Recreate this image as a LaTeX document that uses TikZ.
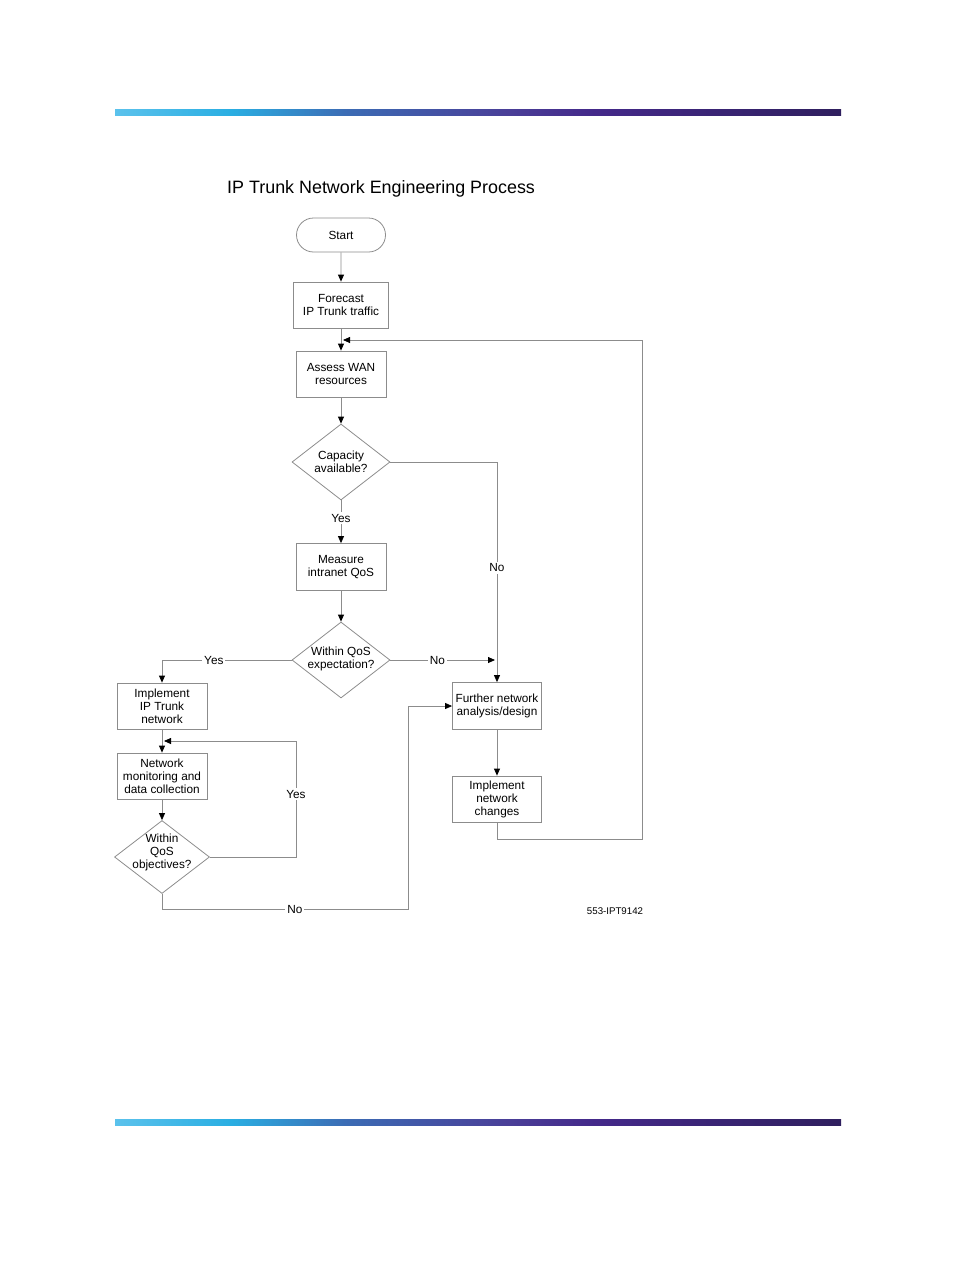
\documentclass[tikz,border=0pt]{standalone}
\usepackage{fontspec}
\setmainfont{Liberation Sans}
\usetikzlibrary{arrows.meta,shapes.geometric,shapes.misc}
\definecolor{bA}{HTML}{5BC2EC}
\definecolor{bB}{HTML}{2AAEE2}
\definecolor{bC}{HTML}{3C6BB4}
\definecolor{bD}{HTML}{4A3F98}
\definecolor{bE}{HTML}{44298A}
\definecolor{bF}{HTML}{2F1F5E}
\definecolor{ln}{HTML}{8C8C8C}
\pgfdeclarehorizontalshading{barshade}{100bp}{color(0bp)=(bA); color(25bp)=(bA); color(33bp)=(bB); color(41bp)=(bC); color(52bp)=(bD); color(58bp)=(bE); color(75bp)=(bF); color(100bp)=(bF)}
\tikzset{
  nfont/.style={font=\fontsize{11.8}{13}\selectfont},
  box/.style={draw=ln, line width=0.8pt, rectangle, inner sep=0pt, align=center, nfont},
  dia/.style={draw=ln, line width=0.8pt, diamond, inner sep=0pt},
  dtext/.style={align=center, inner sep=0pt, nfont},
  arr/.style={draw=ln, line width=0.8pt, -{Triangle[width=6pt,length=7pt,color=black]}},
  lbl/.style={fill=white, inner sep=2pt, nfont}
}
\begin{document}
\begin{tikzpicture}[x=1pt,y=-1pt]
\useasboundingbox (0,0) rectangle (954,1272);
\shade[shading=barshade] (115,109) rectangle (841,115);
\shade[shading=barshade] (115,1119) rectangle (841,1125);
\node[anchor=west, font=\fontsize{17.9}{20}\selectfont, inner sep=0pt] (title) at (227,189) {IP Trunk Network Engineering Process};
\node[draw=ln, line width=0.8pt, rounded rectangle, minimum width=89pt, minimum height=34pt, inner sep=0pt, nfont] (start) at (341,235) {Start};
\node[box, minimum width=95pt, minimum height=46pt] (fc) at (341,305) {Forecast\\IP Trunk traffic};
\node[box, minimum width=90pt, minimum height=46pt] (wan) at (341,374) {Assess WAN\\resources};
\node[dia, minimum width=98pt, minimum height=76pt] (cap) at (341,462) {};
\node[dtext] (capt) at (341,462) {Capacity\\available?};
\node[box, minimum width=90pt, minimum height=47pt] (mq) at (341,567) {Measure\\intranet QoS};
\node[dia, minimum width=98pt, minimum height=76pt] (qos) at (341,660) {};
\node[dtext] (qost) at (341,659) {Within QoS\\expectation?};
\node[box, minimum width=90pt, minimum height=46pt] (ipt) at (162,706) {Implement\\IP Trunk\\network};
\node[box, minimum width=90pt, minimum height=46pt] (nmd) at (162,776) {Network\\monitoring and\\data collection};
\node[dia, minimum width=95pt, minimum height=73pt] (obj) at (162,857) {};
\node[dtext] (objt) at (162,852) {Within\\QoS\\objectives?};
\node[box, minimum width=89pt, minimum height=47pt] (fna) at (497,706) {Further network\\analysis/design};
\node[box, minimum width=89pt, minimum height=46pt] (inc) at (497,799) {Implement\\network\\changes};
\node[font=\fontsize{9.7}{11}\selectfont, inner sep=0pt] (ref) at (615,911) {553-IPT9142};
\coordinate (ret) at (343,340);
\coordinate (rr) at (642,839);
\coordinate (j1) at (495,660);
\coordinate (yl) at (296,741);
\coordinate (yl2) at (164,741);
\coordinate (nb) at (408,909);
\draw[arr] (start) -- (fc);
\draw[arr] (fc) -- (wan);
\draw[arr] (wan) -- (cap.north);
\draw[arr] (cap.south) -- node[lbl, pos=0.42] {Yes} (mq);
\draw[arr] (cap.east) -| node[lbl, pos=0.74] {No} (fna.north);
\draw[arr] (mq) -- (qos.north);
\draw[arr] (qos.east) -- node[lbl, pos=0.45] {No} (j1);
\draw[arr] (qos.west) -| node[lbl, pos=0.3] {Yes} (ipt.north);
\draw[arr] (ipt) -- (nmd);
\draw[arr] (nmd) -- (obj.north);
\draw[arr] (obj.east) -| node[lbl, pos=0.77] {Yes} (yl) -- (yl2);
\draw[arr] (obj.south) |- node[lbl, pos=0.77] {No} (nb) |- (fna.west);
\draw[arr] (fna) -- (inc);
\draw[arr] (inc.south) |- (rr) |- (ret);
\end{tikzpicture}
\end{document}
